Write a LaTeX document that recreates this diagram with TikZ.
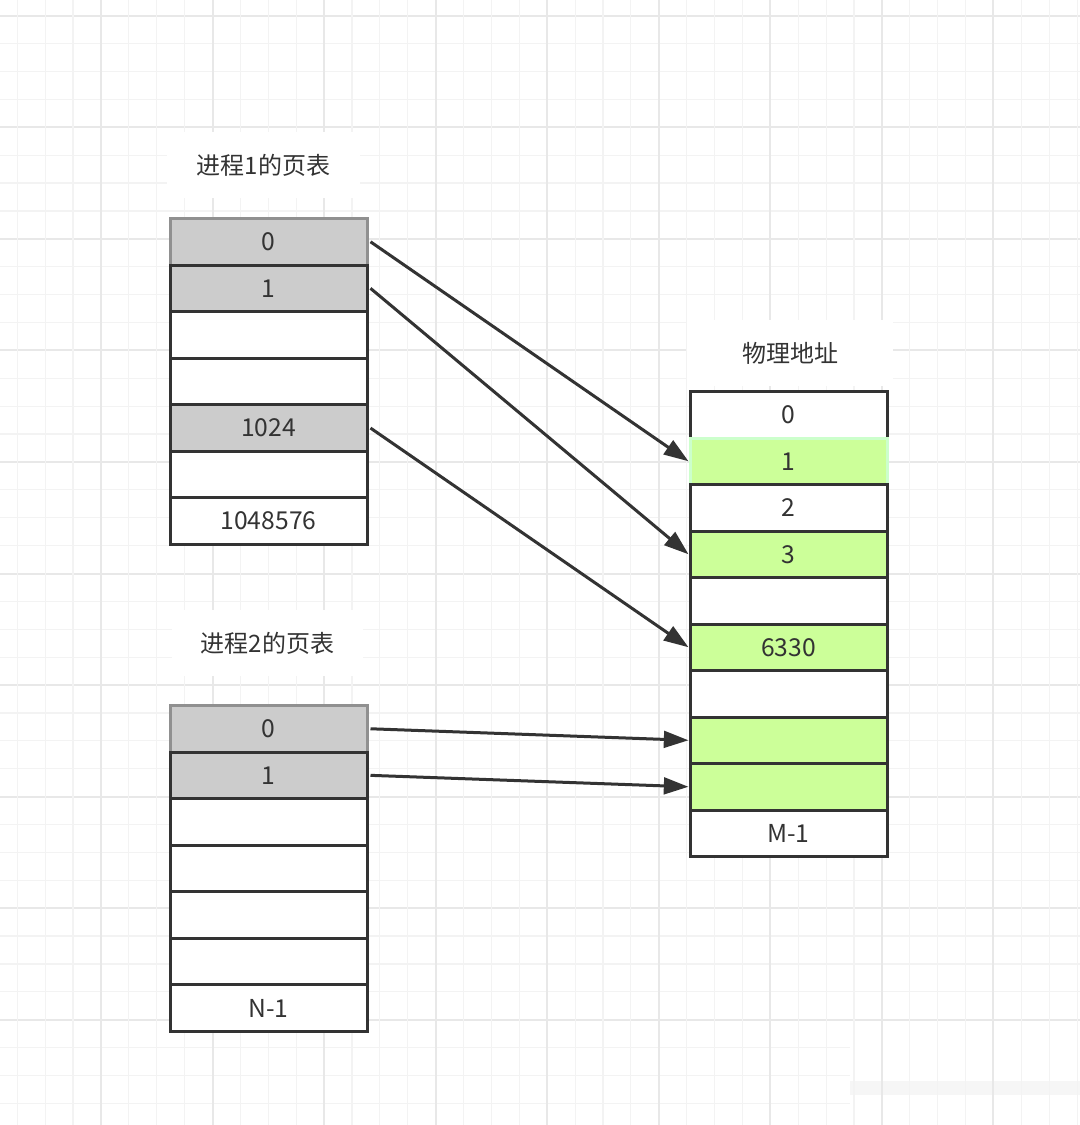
\documentclass[tikz,border=0pt]{standalone}
\usepackage{fontspec}
\setmainfont{Noto Sans CJK SC}
\usetikzlibrary{arrows.meta}
\definecolor{ink}{HTML}{333333}
\definecolor{grayfill}{HTML}{CCCCCC}
\definecolor{grayline}{HTML}{909090}
\definecolor{greenfill}{HTML}{CCFF99}
\definecolor{paleline}{HTML}{CCFFCC}
\definecolor{gridminor}{HTML}{F3F3F3}
\definecolor{gridmajor}{HTML}{E8E8E8}
\definecolor{gridband}{HTML}{F6F6F6}
\begin{document}
\begin{tikzpicture}[x=0.75pt,y=-0.75pt,
  cell/.style={draw=ink, line width=2.25pt, fill=white, minimum width=147.75pt,
    minimum height=34.9pt, inner sep=0pt, anchor=north west,
    font=\fontsize{18.5}{20}\selectfont, text=ink},
  graycell/.style={cell, fill=grayfill},
  firstcell/.style={graycell, draw=grayline},
  greencell/.style={cell, fill=greenfill},
  palecell/.style={cell, fill=greenfill, draw=paleline},
  title/.style={fill=white, inner sep=0pt, font=\fontsize{18}{20}\selectfont, text=ink},
  conn/.style={draw=ink, line width=2.25pt, -{Triangle[length=18.5pt,width=12.5pt]}}
]
\useasboundingbox (0,0) rectangle (1080,1125);
\fill[white] (0,0) rectangle (1080,1125);
% grid: horizontal lines
\foreach \k in {0,...,40} {
  \pgfmathsetmacro\yy{15.7+27.89*\k}
  \pgfmathtruncatemacro\m{mod(\k,4)}
  \ifnum\m=0
    \draw[gridmajor, line width=1.5pt] (0,\yy) -- (1080,\yy);
  \else
    \draw[gridminor, line width=0.9pt] (0,\yy) -- (1080,\yy);
  \fi
}
% faded patch at the bottom right
\fill[white] (850,1034) rectangle (1080,1125);
\fill[gridband] (850,1081) rectangle (1080,1095);
% grid: vertical lines
\foreach \k in {0,...,38} {
  \pgfmathsetmacro\xx{17.3+27.89*\k}
  \pgfmathtruncatemacro\m{mod(\k,4)}
  \ifnum\m=3
    \draw[gridmajor, line width=1.5pt] (\xx,0) -- (\xx,1125);
  \else
    \draw[gridminor, line width=0.9pt] (\xx,0) -- (\xx,1125);
  \fi
}
% titles
\node[title, minimum width=144.75pt, minimum height=49.5pt] (lab1) at (263.5,165) {进程1的页表};
\node[title, minimum width=143.25pt, minimum height=49.5pt] (lab2) at (267.5,643) {进程2的页表};
\node[title, minimum width=154.5pt, minimum height=49.5pt] (lab3) at (790,353) {物理地址};
% table 1
\node[firstcell] (a0) at (168.5,217) {0};
\node[graycell] (a1) at (168.5,263.57) {1};
\node[cell] (a2) at (168.5,310.14) {};
\node[cell] (a3) at (168.5,356.71) {};
\node[graycell] (a4) at (168.5,403.28) {1024};
\node[cell] (a5) at (168.5,449.85) {};
\node[cell] (a6) at (168.5,496.42) {1048576};
% table 2
\node[firstcell] (b0) at (168.5,704) {0};
\node[graycell] (b1) at (168.5,750.57) {1};
\node[cell] (b2) at (168.5,797.14) {};
\node[cell] (b3) at (168.5,843.71) {};
\node[cell] (b4) at (168.5,890.28) {};
\node[cell] (b5) at (168.5,936.85) {};
\node[cell] (b6) at (168.5,983.42) {N-1};
% physical
\node[cell] (p0) at (688.5,390) {0};
\node[palecell] (p1) at (688.5,436.5) {1};
\node[cell] (p2) at (688.5,483) {2};
\node[greencell] (p3) at (688.5,529.5) {3};
\node[cell] (p4) at (688.5,576) {};
\node[greencell] (p5) at (688.5,622.5) {6330};
\node[cell] (p6) at (688.5,669) {};
\node[greencell] (p7) at (688.5,715.5) {};
\node[greencell] (p8) at (688.5,762) {};
\node[cell] (p9) at (688.5,808.5) {M-1};
% connectors
\draw[conn] ([xshift=1.5pt]a0.east) -- (p1.west);
\draw[conn] ([xshift=1.5pt]a1.east) -- (p3.west);
\draw[conn] ([xshift=1.5pt]a4.east) -- (p5.west);
\draw[conn] ([xshift=1.5pt]b0.east) -- (p7.west);
\draw[conn] ([xshift=1.5pt]b1.east) -- (p8.west);
\end{tikzpicture}
\end{document}
